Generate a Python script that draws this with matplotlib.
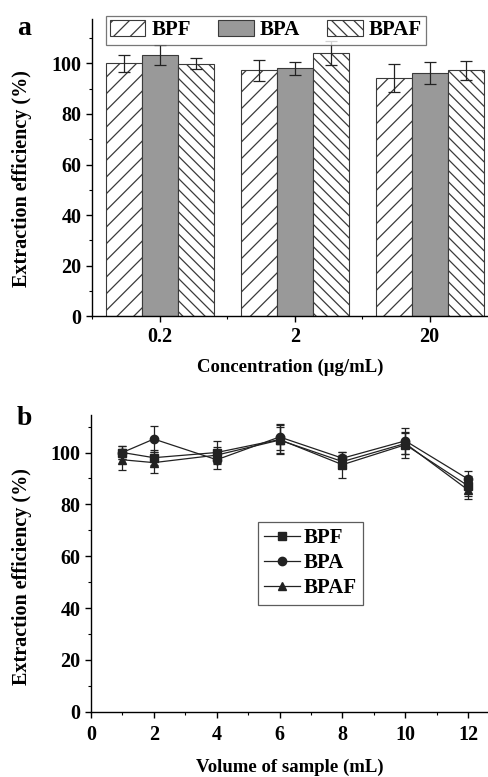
import numpy as np
import matplotlib.pyplot as plt
from matplotlib.ticker import MultipleLocator

plt.rcParams['font.family'] = ['Liberation Serif', 'DejaVu Serif']
plt.rcParams['font.weight'] = 'bold'
plt.rcParams['hatch.linewidth'] = 0.9

# panel a data
conc_labels = ['0.2', '2', '20']
series = ['BPF', 'BPA', 'BPAF']
bar_vals = {
    'BPF': [100.0, 97.2, 94.2],
    'BPA': [103.3, 98.1, 96.3],
    'BPAF': [99.8, 104.0, 97.2],
}
bar_errs = {
    'BPF': [3.5, 4.0, 5.7],
    'BPA': [4.0, 2.6, 4.4],
    'BPAF': [2.2, 4.7, 3.7],
}

# panel b data
volume = [1, 2, 4, 6, 8, 10, 12]
line_vals = {
    'BPF': [100.0, 98.0, 100.0, 105.0, 95.3, 103.0, 87.1],
    'BPA': [100.0, 105.2, 97.2, 106.0, 97.8, 104.5, 89.7],
    'BPAF': [97.2, 96.1, 99.0, 104.8, 96.5, 103.5, 85.5],
}
line_errs = {
    'BPF': [2.5, 3.0, 4.4, 5.5, 5.0, 5.0, 4.0],
    'BPA': [2.5, 5.0, 3.5, 5.0, 2.5, 5.0, 3.0],
    'BPAF': [4.0, 4.0, 3.0, 5.0, 2.5, 4.0, 3.5],
}

fig = plt.figure(figsize=(4.89, 7.77), dpi=100)

# ---- panel a ----
ax1 = fig.add_axes([0.188, 0.593, 0.812, 0.383])
x = np.arange(len(conc_labels))
w = 0.8 / 3
styles = {
    'BPF': dict(color='white', hatch='//'),
    'BPA': dict(color='#999999', hatch=None),
    'BPAF': dict(color='white', hatch='\\\\\\'),
}
for i, s in enumerate(series):
    ax1.bar(x + (i - 1) * w, bar_vals[s], w, yerr=bar_errs[s],
            color=styles[s]['color'], hatch=styles[s]['hatch'],
            edgecolor='#3a3a3a', linewidth=0.8, label=s,
            error_kw=dict(ecolor='#222222', elinewidth=0.9, capsize=4, capthick=0.9))
ax1.set_xlim(-0.504, 2.44)
ax1.set_ylim(0, 117.7)
ax1.set_xticks(x)
ax1.set_xticklabels(conc_labels)
ax1.set_xticks([-0.5, 0.5, 1.5], minor=True)
ax1.yaxis.set_major_locator(MultipleLocator(20))
ax1.yaxis.set_minor_locator(MultipleLocator(10))
ax1.set_xlabel('Concentration (μg/mL)', fontsize=13.5, fontweight='bold', labelpad=9)
ax1.set_ylabel('Extraction efficiency (%)', fontsize=14.5, fontweight='bold')
ax1.yaxis.set_label_coords(-0.152, 0.461)
leg1 = ax1.legend(loc='upper left', bbox_to_anchor=(0.035, 1.01), ncol=3, fontsize=15,
                  frameon=True, fancybox=False, edgecolor='#555555', handlelength=1.7,
                  handleheight=0.85, columnspacing=1.3, handletextpad=0.3,
                  borderpad=0.2, borderaxespad=0)
leg1.get_frame().set_linewidth(0.9)
fig.text(0.035, 0.98, 'a', fontsize=20, fontweight='bold', va='top')

# ---- panel b ----
ax2 = fig.add_axes([0.186, 0.084, 0.814, 0.382])
markers = {'BPF': 's', 'BPA': 'o', 'BPAF': '^'}
handles = []
for s in series:
    eb = ax2.errorbar(volume, line_vals[s], yerr=line_errs[s], color='#222222',
                      marker=markers[s], markersize=6, linewidth=0.9,
                      elinewidth=0.9, capsize=3, capthick=0.9, label=s)
    handles.append(eb[0])
ax2.set_xlim(0, 12.66)
ax2.set_ylim(0, 114.5)
ax2.xaxis.set_major_locator(MultipleLocator(2))
ax2.xaxis.set_minor_locator(MultipleLocator(1))
ax2.yaxis.set_major_locator(MultipleLocator(20))
ax2.yaxis.set_minor_locator(MultipleLocator(10))
ax2.set_xlabel('Volume of sample (mL)', fontsize=13.5, fontweight='bold', labelpad=10)
ax2.set_ylabel('Extraction efficiency (%)', fontsize=14.5, fontweight='bold')
ax2.yaxis.set_label_coords(-0.149, 0.456)
leg2 = ax2.legend(handles, series, loc='upper left', bbox_to_anchor=(0.42, 0.64), fontsize=15,
                  frameon=True, fancybox=False, edgecolor='#333333',
                  handlelength=1.7, handletextpad=0.2, borderpad=0.3,
                  labelspacing=0.25, borderaxespad=0)
leg2.get_frame().set_linewidth(0.9)
fig.text(0.035, 0.477, 'b', fontsize=20, fontweight='bold', va='top')

for ax in (ax1, ax2):
    ax.spines['top'].set_visible(False)
    ax.spines['right'].set_visible(False)
    ax.spines['left'].set_linewidth(1.0)
    ax.spines['bottom'].set_linewidth(1.0)
    ax.tick_params(which='major', direction='out', length=4, width=1.0, labelsize=14.5)
    ax.tick_params(which='minor', direction='out', length=2.5, width=0.8)
    for lab in ax.get_xticklabels() + ax.get_yticklabels():
        lab.set_fontweight('bold')
ax2.tick_params(axis='x', which='major', pad=5.5)

fig.savefig('out.png', dpi=100)
